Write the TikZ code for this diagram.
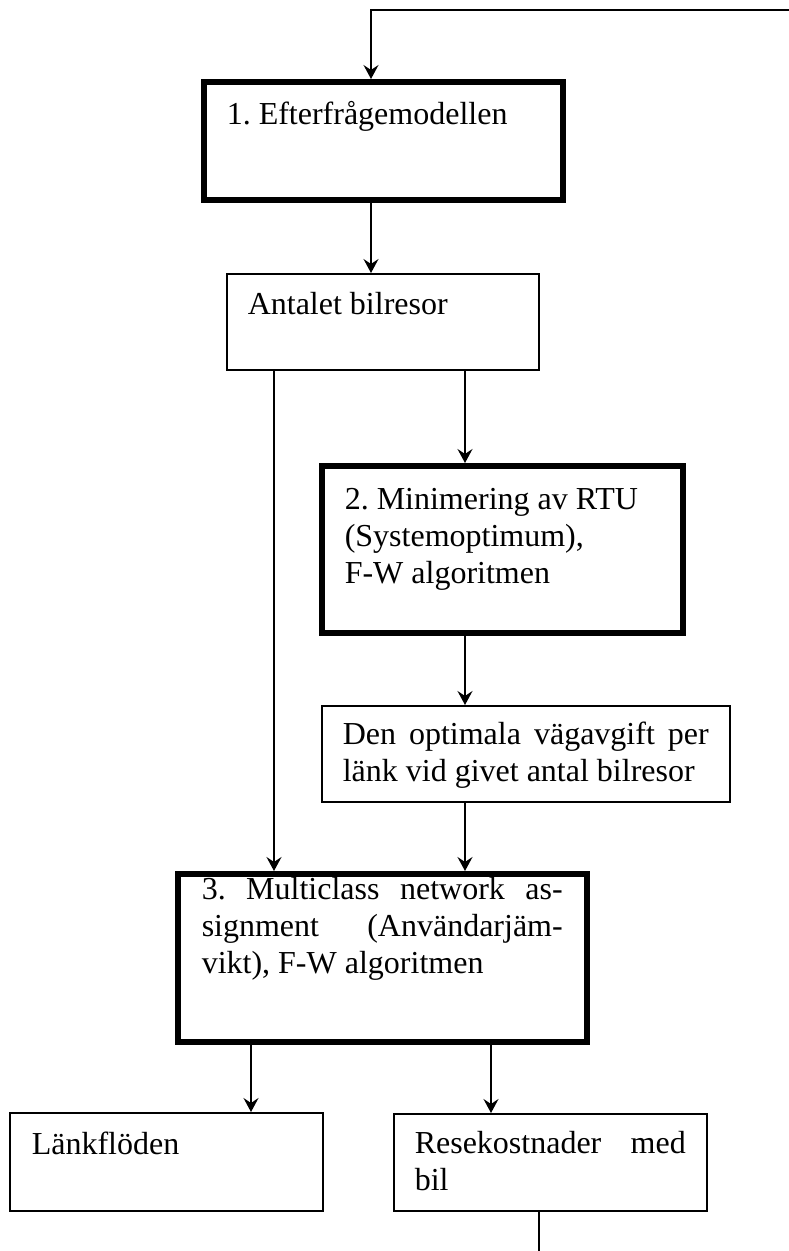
\documentclass[tikz,border=0pt]{standalone}
\usepackage{fontspec}
\setmainfont{Liberation Serif}
\usetikzlibrary{arrows.meta}

\begin{document}
\begin{tikzpicture}[
  x=1pt,
  y=-1pt,
  line join=miter,
  font=\fontsize{32}{36.7}\selectfont\frenchspacing,
  box/.style={draw,line width=1.5pt,anchor=north west,inner ysep=0pt,align=justify},
  mainbox/.style={box,line width=5.5pt},
  link/.style={draw,line width=1.7pt,-{Stealth[length=14pt,width=15pt,inset=5pt]}},
  plainlink/.style={draw,line width=1.7pt}
]
  % Keep the frame of the original figure.
  \useasboundingbox (0,0) rectangle (789,1251);

  % Model steps (thick) and their results (thin).
  \node[mainbox,inner xsep=23pt,text width=313pt,text height=43pt,text depth=75pt]
    (efter) at (201,79) {1. Efterfrågemodellen};
  \node[box,inner xsep=21pt,text width=270pt,text height=41pt,text depth=55pt]
    (antal) at (226,273) {Antalet bilresor};
  \node[mainbox,inner xsep=23pt,text width=315pt,text height=44pt,text depth=123pt]
    (minim) at (319,463) {2. Minimering av RTU\\(Systemoptimum),\\F-W algoritmen};
  \node[box,inner xsep=21pt,text width=366pt,text height=39pt,text depth=57pt]
    (optimal) at (321,705)
    {\makebox[\linewidth][s]{Den optimala vägavgift per}\\länk vid givet antal bilresor};
  \node[mainbox,inner xsep=24pt,text width=361pt,text height=26pt,text depth=142pt]
    (multi) at (175,871)
    {\makebox[\linewidth][s]{3. Multiclass network as-}\\
     \makebox[\linewidth][s]{signment (Användarjäm-}\\vikt), F-W algoritmen};
  \node[box,inner xsep=22pt,text width=269pt,text height=42pt,text depth=56pt]
    (lank) at (9,1112) {Länkflöden};
  \node[box,inner xsep=21pt,text width=271pt,text height=40pt,text depth=57pt]
    (rese) at (393,1113) {\makebox[\linewidth][s]{Resekostnader med}\\bil};

  % Columns of the vertical connectors.
  \coordinate (loopstart) at (789,10);
  \coordinate (loopcorner) at (371,10);
  \coordinate (colright) at (465,0);
  \coordinate (colleft) at (274,0);
  \coordinate (collank) at (251,0);
  \coordinate (colrese) at (491,0);
  \coordinate (loopend) at (539,1251);

  % Feedback into the demand model.
  \draw[link] (loopstart) -- (loopcorner) -- (loopcorner |- efter.north);

  % Flow through the steps.
  \draw[link] (efter.south -| loopcorner) -- (antal.north -| loopcorner);
  \draw[link] (antal.south -| colright) -- (minim.north -| colright);
  \draw[link] (antal.south -| colleft) -- (multi.north -| colleft);
  \draw[link] (minim.south -| colright) -- (optimal.north -| colright);
  \draw[link] (optimal.south -| colright) -- (multi.north -| colright);
  \draw[link] (multi.south -| collank) -- (lank.north -| collank);
  \draw[link] (multi.south -| colrese) -- (rese.north -| colrese);

  % Travel costs leave the frame at the bottom.
  \draw[plainlink] (rese.south -| loopend) -- (loopend);
\end{tikzpicture}
\end{document}
